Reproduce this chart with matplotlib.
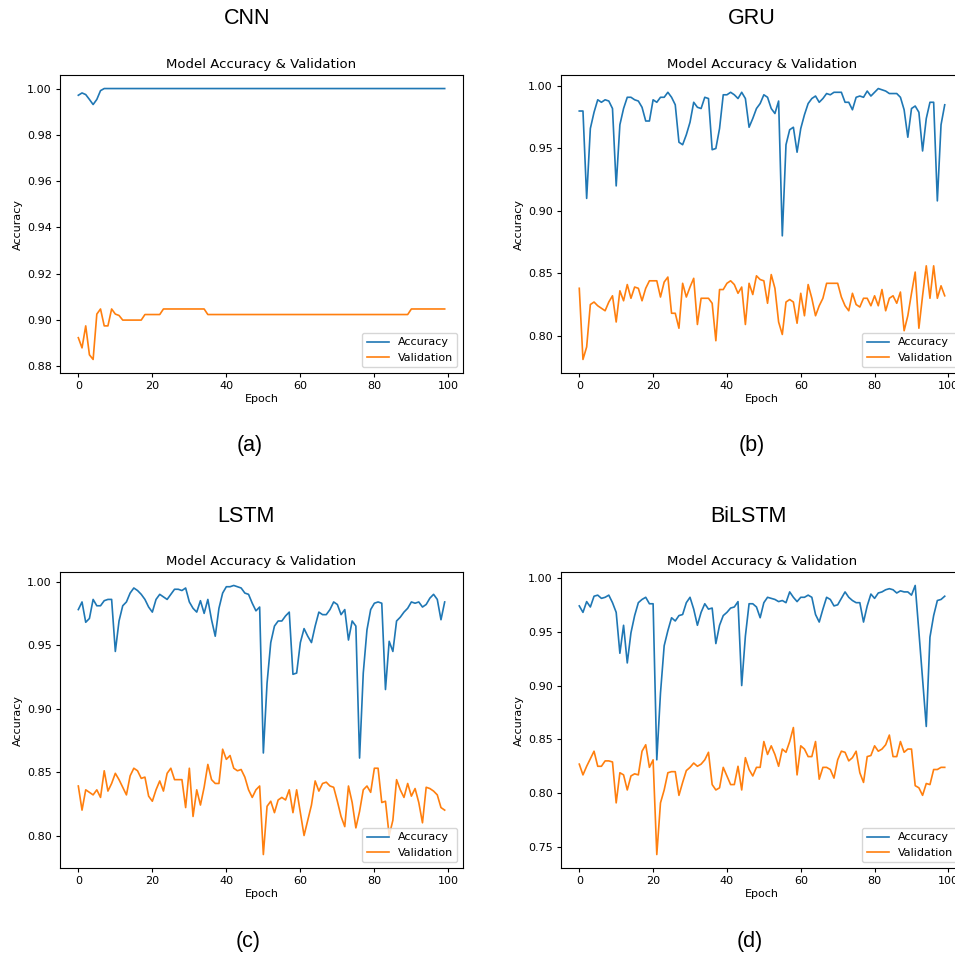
import matplotlib
matplotlib.use('Agg')
import matplotlib.pyplot as plt
import numpy as np

epochs = np.arange(100)

cnn_acc = [
    0.9971, 0.9981, 0.9974, 0.9953, 0.9931, 0.9953, 0.9991, 1.0, 1.0, 1.0,
    1.0, 1.0, 1.0, 1.0, 1.0, 1.0, 1.0, 1.0, 1.0, 1.0,
    1.0, 1.0, 1.0, 1.0, 1.0, 1.0, 1.0, 1.0, 1.0, 1.0,
    1.0, 1.0, 1.0, 1.0, 1.0, 1.0, 1.0, 1.0, 1.0, 1.0,
    1.0, 1.0, 1.0, 1.0, 1.0, 1.0, 1.0, 1.0, 1.0, 1.0,
    1.0, 1.0, 1.0, 1.0, 1.0, 1.0, 1.0, 1.0, 1.0, 1.0,
    1.0, 1.0, 1.0, 1.0, 1.0, 1.0, 1.0, 1.0, 1.0, 1.0,
    1.0, 1.0, 1.0, 1.0, 1.0, 1.0, 1.0, 1.0, 1.0, 1.0,
    1.0, 1.0, 1.0, 1.0, 1.0, 1.0, 1.0, 1.0, 1.0, 1.0,
    1.0, 1.0, 1.0, 1.0, 1.0, 1.0, 1.0, 1.0, 1.0, 1.0]
cnn_val = [
    0.8924, 0.888, 0.8975, 0.885, 0.883, 0.9026, 0.9048, 0.8975, 0.8975, 0.9048,
    0.9026, 0.902, 0.900, 0.900, 0.900, 0.900, 0.900, 0.900, 0.9024, 0.9024,
    0.9024, 0.9024, 0.9024, 0.9048, 0.9048, 0.9048, 0.9048, 0.9048, 0.9048, 0.9048,
    0.9048, 0.9048, 0.9048, 0.9048, 0.9048, 0.9024, 0.9024, 0.9024, 0.9024, 0.9024,
    0.9024, 0.9024, 0.9024, 0.9024, 0.9024, 0.9024, 0.9024, 0.9024, 0.9024, 0.9024,
    0.9024, 0.9024, 0.9024, 0.9024, 0.9024, 0.9024, 0.9024, 0.9024, 0.9024, 0.9024,
    0.9024, 0.9024, 0.9024, 0.9024, 0.9024, 0.9024, 0.9024, 0.9024, 0.9024, 0.9024,
    0.9024, 0.9024, 0.9024, 0.9024, 0.9024, 0.9024, 0.9024, 0.9024, 0.9024, 0.9024,
    0.9024, 0.9024, 0.9024, 0.9024, 0.9024, 0.9024, 0.9024, 0.9024, 0.9024, 0.9024,
    0.9048, 0.9048, 0.9048, 0.9048, 0.9048, 0.9048, 0.9048, 0.9048, 0.9048, 0.9048]

gru_acc = [
    0.980, 0.980, 0.910, 0.966, 0.979, 0.989, 0.987, 0.989, 0.988, 0.982,
    0.920, 0.969, 0.982, 0.991, 0.991, 0.989, 0.988, 0.983, 0.972, 0.972,
    0.989, 0.987, 0.991, 0.991, 0.995, 0.991, 0.985, 0.955, 0.953, 0.961,
    0.971, 0.987, 0.983, 0.982, 0.991, 0.990, 0.949, 0.950, 0.966, 0.993,
    0.993, 0.995, 0.993, 0.990, 0.995, 0.990, 0.967, 0.974, 0.982, 0.986,
    0.993, 0.991, 0.982, 0.978, 0.988, 0.880, 0.953, 0.965, 0.967, 0.947,
    0.966, 0.977, 0.986, 0.990, 0.992, 0.987, 0.990, 0.994, 0.993, 0.995,
    0.995, 0.995, 0.987, 0.987, 0.981, 0.991, 0.992, 0.991, 0.996, 0.992,
    0.995, 0.998, 0.997, 0.996, 0.994, 0.994, 0.994, 0.991, 0.981, 0.959,
    0.982, 0.984, 0.979, 0.948, 0.974, 0.987, 0.987, 0.908, 0.969, 0.985]
gru_val = [
    0.838, 0.781, 0.791, 0.825, 0.827, 0.824, 0.822, 0.820, 0.827, 0.832,
    0.811, 0.836, 0.828, 0.841, 0.830, 0.839, 0.838, 0.828, 0.838, 0.844,
    0.844, 0.844, 0.831, 0.843, 0.847, 0.818, 0.818, 0.806, 0.842, 0.831,
    0.839, 0.846, 0.809, 0.830, 0.830, 0.830, 0.826, 0.796, 0.837, 0.837,
    0.842, 0.844, 0.841, 0.834, 0.839, 0.809, 0.842, 0.833, 0.848, 0.845,
    0.844, 0.826, 0.849, 0.838, 0.811, 0.801, 0.827, 0.829, 0.827, 0.810,
    0.834, 0.816, 0.841, 0.830, 0.816, 0.824, 0.830, 0.842, 0.842, 0.842,
    0.842, 0.831, 0.824, 0.820, 0.834, 0.825, 0.823, 0.830, 0.830, 0.824,
    0.832, 0.824, 0.837, 0.820, 0.830, 0.832, 0.826, 0.835, 0.804, 0.816,
    0.834, 0.851, 0.806, 0.832, 0.856, 0.830, 0.856, 0.830, 0.840, 0.832]

lstm_acc = [
    0.978, 0.984, 0.968, 0.971, 0.986, 0.981, 0.981, 0.985, 0.986, 0.986,
    0.945, 0.969, 0.981, 0.984, 0.991, 0.995, 0.993, 0.990, 0.986, 0.980,
    0.976, 0.986, 0.990, 0.988, 0.986, 0.990, 0.994, 0.994, 0.993, 0.995,
    0.984, 0.979, 0.976, 0.985, 0.975, 0.986, 0.970, 0.957, 0.979, 0.991,
    0.996, 0.996, 0.997, 0.996, 0.995, 0.991, 0.990, 0.983, 0.977, 0.980,
    0.865, 0.920, 0.952, 0.965, 0.969, 0.969, 0.973, 0.976, 0.927, 0.928,
    0.952, 0.963, 0.957, 0.952, 0.965, 0.976, 0.974, 0.974, 0.978, 0.984,
    0.982, 0.974, 0.978, 0.954, 0.969, 0.965, 0.861, 0.928, 0.962, 0.978,
    0.983, 0.984, 0.983, 0.915, 0.953, 0.945, 0.969, 0.972, 0.976, 0.979,
    0.984, 0.983, 0.984, 0.980, 0.982, 0.987, 0.990, 0.986, 0.970, 0.984]
lstm_val = [
    0.839, 0.820, 0.836, 0.834, 0.832, 0.836, 0.830, 0.851, 0.835, 0.841,
    0.849, 0.844, 0.838, 0.832, 0.847, 0.853, 0.851, 0.845, 0.846, 0.831,
    0.827, 0.836, 0.843, 0.835, 0.849, 0.853, 0.844, 0.844, 0.844, 0.822,
    0.853, 0.815, 0.836, 0.824, 0.838, 0.856, 0.844, 0.841, 0.841, 0.868,
    0.860, 0.863, 0.853, 0.851, 0.852, 0.846, 0.836, 0.830, 0.836, 0.839,
    0.785, 0.823, 0.827, 0.818, 0.828, 0.830, 0.828, 0.836, 0.818, 0.836,
    0.818, 0.800, 0.812, 0.824, 0.843, 0.835, 0.841, 0.842, 0.839, 0.838,
    0.827, 0.815, 0.807, 0.839, 0.826, 0.806, 0.819, 0.836, 0.839, 0.834,
    0.853, 0.853, 0.826, 0.827, 0.800, 0.812, 0.844, 0.836, 0.830, 0.841,
    0.831, 0.837, 0.826, 0.810, 0.838, 0.837, 0.835, 0.832, 0.822, 0.820]

bilstm_acc = [
    0.974, 0.968, 0.978, 0.973, 0.983, 0.984, 0.981, 0.982, 0.984, 0.977,
    0.968, 0.930, 0.956, 0.921, 0.949, 0.965, 0.977, 0.980, 0.982, 0.976,
    0.976, 0.831, 0.893, 0.937, 0.951, 0.963, 0.960, 0.965, 0.966, 0.977,
    0.982, 0.971, 0.956, 0.968, 0.976, 0.971, 0.972, 0.939, 0.956, 0.965,
    0.968, 0.972, 0.973, 0.978, 0.900, 0.946, 0.976, 0.976, 0.973, 0.963,
    0.977, 0.982, 0.981, 0.980, 0.978, 0.979, 0.977, 0.987, 0.982, 0.978,
    0.982, 0.982, 0.984, 0.982, 0.966, 0.959, 0.971, 0.982, 0.980, 0.974,
    0.975, 0.981, 0.987, 0.982, 0.979, 0.977, 0.977, 0.959, 0.974, 0.985,
    0.981, 0.986, 0.987, 0.989, 0.990, 0.989, 0.986, 0.988, 0.987, 0.987,
    0.984, 0.993, 0.950, 0.906, 0.862, 0.945, 0.965, 0.979, 0.980, 0.983]
bilstm_val = [
    0.827, 0.817, 0.825, 0.832, 0.839, 0.825, 0.825, 0.830, 0.830, 0.829,
    0.791, 0.819, 0.817, 0.803, 0.816, 0.818, 0.817, 0.839, 0.845, 0.824,
    0.831, 0.743, 0.791, 0.803, 0.819, 0.820, 0.820, 0.798, 0.810, 0.821,
    0.824, 0.828, 0.825, 0.827, 0.831, 0.838, 0.808, 0.803, 0.805, 0.824,
    0.816, 0.808, 0.808, 0.825, 0.803, 0.833, 0.822, 0.816, 0.824, 0.824,
    0.848, 0.836, 0.844, 0.836, 0.825, 0.841, 0.838, 0.848, 0.861, 0.817,
    0.844, 0.841, 0.834, 0.834, 0.848, 0.813, 0.824, 0.824, 0.822, 0.814,
    0.831, 0.839, 0.838, 0.830, 0.833, 0.839, 0.819, 0.810, 0.834, 0.835,
    0.844, 0.839, 0.841, 0.845, 0.854, 0.834, 0.834, 0.848, 0.838, 0.841,
    0.841, 0.807, 0.805, 0.798, 0.809, 0.808, 0.822, 0.822, 0.824, 0.824]

models = ['CNN', 'GRU', 'LSTM', 'BiLSTM']
panel_tags = ['(a)', '(b)', '(c)', '(d)']
acc_series = [cnn_acc, gru_acc, lstm_acc, bilstm_acc]
val_series = [cnn_val, gru_val, lstm_val, bilstm_val]

W, H = 955, 964
fig = plt.figure(figsize=(W / 100, H / 100), dpi=100)

# axes boxes in pixels: left, top, right, bottom (right column runs off the page)
boxes = [(60, 75, 463, 373), (561, 75, 963, 373),
         (60, 572, 463, 868), (561, 572, 963, 868)]
# centres of the big model names and of the (a)-(d) tags, pixels
name_pos = [(247, 19), (752, 19), (246, 516), (748, 516)]
tag_pos = [(250, 445), (752, 445), (248, 942), (750, 942)]

big_font = ['Liberation Sans', 'DejaVu Sans']

for i in range(4):
    l, t, r, b = boxes[i]
    ax = fig.add_axes([l / W, 1 - b / H, (r - l) / W, (b - t) / H])
    ax.plot(epochs, acc_series[i], color='#1f77b4', lw=1.2, label='Accuracy')
    ax.plot(epochs, val_series[i], color='#ff7f0e', lw=1.2, label='Validation')
    ax.set_title('Model Accuracy & Validation', fontsize=9.5, pad=5)
    ax.set_xlabel('Epoch', fontsize=8, labelpad=2)
    ax.set_ylabel('Accuracy', fontsize=8, labelpad=3)
    ax.tick_params(labelsize=8, length=3, pad=3)
    ax.legend(loc='lower right', fontsize=8)
    for s in ax.spines.values():
        s.set_linewidth(0.8)

    nx, ny = name_pos[i]
    fig.text(nx / W, 1 - ny / H, models[i], ha='center', va='center',
             fontsize=15.5, family=big_font)
    tx, ty = tag_pos[i]
    fig.text(tx / W, 1 - ty / H, panel_tags[i], ha='center', va='center',
             fontsize=15.5, family=big_font)

fig.savefig('out.png', dpi=100)
